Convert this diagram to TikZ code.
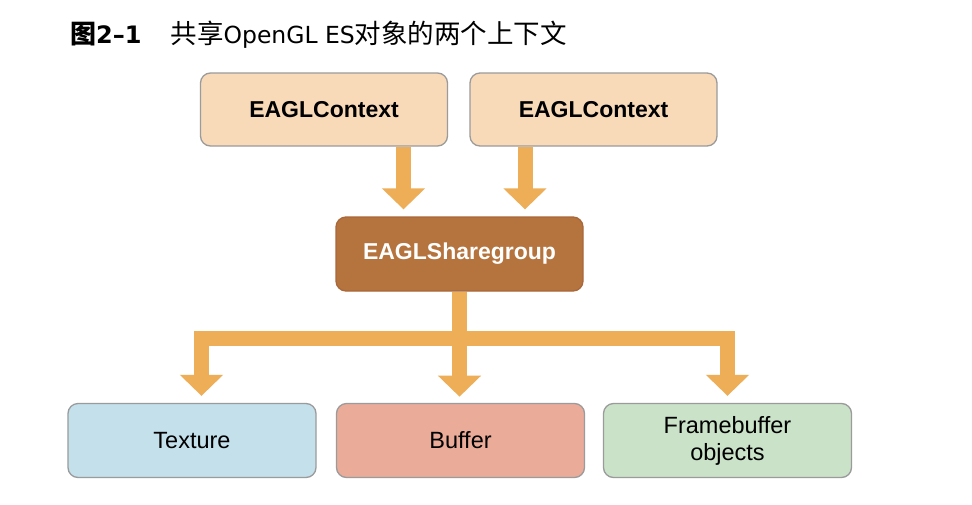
\documentclass[tikz,border=0pt]{standalone}
\usepackage{fontspec}
\setmainfont{Liberation Sans}
\newfontfamily\cjk{Noto Sans CJK SC}
\newfontfamily\dejavu{DejaVu Sans}
\usetikzlibrary{arrows.meta,calc,backgrounds}
\definecolor{ctxfill}{HTML}{F8DAB8}
\definecolor{sgfill}{HTML}{B5733D}
\definecolor{sgedge}{HTML}{A9683A}
\definecolor{texfill}{HTML}{C3E0EB}
\definecolor{buffill}{HTML}{EAAB98}
\definecolor{fbofill}{HTML}{C9E2C8}
\definecolor{arrowc}{HTML}{EDAE57}
\definecolor{boxgray}{HTML}{9B9B9B}
\tikzset{
  box/.style={draw=boxgray, line width=1.3pt, rounded corners=10pt,
    minimum width=247pt, minimum height=73pt, inner sep=0pt, align=center,
    font=\fontsize{23.5}{27}\selectfont},
  boldbox/.style={box, font=\fontsize{23}{27}\selectfont\bfseries},
  arr/.style={draw=arrowc, line width=15pt, line join=miter,
    -{Triangle[width=42pt,length=21pt]}},
}
\begin{document}
\begin{tikzpicture}[x=1pt,y=-1pt]
\useasboundingbox (0,0) rectangle (972,504);
% title
\node[anchor=base west, inner sep=0pt] (title) at (70,43)
  {{\cjk\fontsize{26}{30}\selectfont\bfseries 图}{\dejavu\fontsize{24}{28}\selectfont\bfseries 2–1}\hspace{29pt}{\cjk\fontsize{26.5}{30}\selectfont 共享}{\dejavu\fontsize{23.5}{28}\selectfont OpenGL ES}{\cjk\fontsize{26.5}{30}\selectfont 对象的两个上下文}};
% boxes
\node[boldbox, fill=ctxfill] (c1) at (324,109.5) {EAGLContext};
\node[boldbox, fill=ctxfill] (c2) at (593.5,109.5) {EAGLContext};
\node[boldbox, fill=sgfill, draw=sgedge, text=white, minimum height=74pt] (sg) at (459.5,254) {EAGLSharegroup};
\node[box, fill=texfill, minimum width=248pt, minimum height=74pt] (tex) at (192,440.5) {Texture};
\node[box, fill=buffill, minimum width=248pt, minimum height=74pt] (buf) at (460.5,440.5) {Buffer};
\node[box, fill=fbofill, minimum width=248pt, minimum height=74pt] (fbo) at (727.5,440.5) {Framebuffer\\objects};
% arrow coordinates
\coordinate (t1) at ($(sg.north)+(-56,-7)$);
\coordinate (t2) at ($(sg.north)+(65.5,-7)$);
\coordinate (bar) at (0,338.5);
\coordinate (d1) at ($(tex.north)+(9.5,-7)$);
\coordinate (d2) at ($(sg.south)+(0,105)$);
\coordinate (d3) at ($(fbo.north)+(0,-7)$);
\begin{scope}[on background layer]
  \fill[white] (0,0) rectangle (972,504);
  \draw[arr] (c1.south -| t1) -- (t1);
  \draw[arr] (c2.south -| t2) -- (t2);
  \draw[arr] (sg.south) -- (sg.south |- bar) -| (d1);
  \draw[arr] (sg.south) -- (d2);
  \draw[arr] (sg.south) -- (sg.south |- bar) -| (d3);
\end{scope}
\end{tikzpicture}
\end{document}
